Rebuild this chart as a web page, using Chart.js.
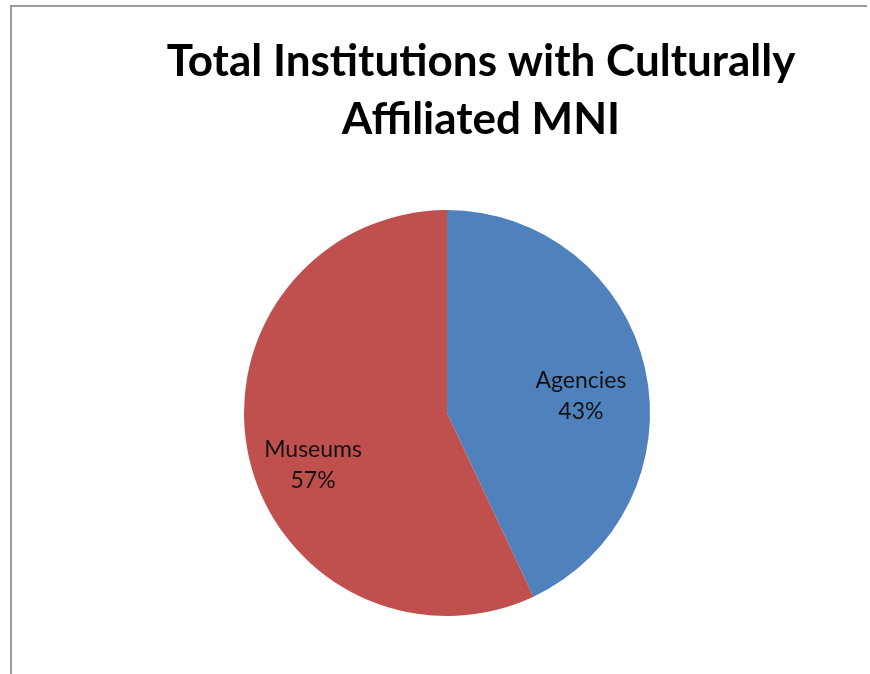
<!DOCTYPE html>
<html>
<head>
<meta charset="utf-8">
<script src="https://cdn.jsdelivr.net/npm/chart.js@4"></script>
<style>
  html, body { margin: 0; padding: 0; background: #fff; }
  #wrap { position: relative; width: 870px; height: 674px; overflow: hidden; }
  #frame { position: absolute; left: 10px; top: 5px; width: 857px; height: 700px;
           border-left: 2px solid #9a9a9a; border-top: 2px solid #9a9a9a; box-sizing: border-box; }
  canvas { position: absolute; left: 0; top: 0; }
</style>
</head>
<body>
<div id="wrap">
  <div id="frame"></div>
  <canvas id="c" width="870" height="674"></canvas>
</div>
<script>
const titleLines = ["Total Institutions with Culturally", "Affiliated MNI"];
const categories = ["Agencies", "Museums"];
const values = [43, 57];
const colors = ["#4F81BD", "#C0504D"];

const titlePlugin = {
  id: 'customTitle',
  afterDraw(chart) {
    const ctx = chart.ctx;
    ctx.save();
    ctx.fillStyle = '#000';
    ctx.font = 'bold 44px Lato';
    ctx.textAlign = 'center';
    ctx.textBaseline = 'alphabetic';
    titleLines.forEach((t, i) => ctx.fillText(t, 481, 76 + i * 58));
    ctx.restore();
  }
};

const labelPlugin = {
  id: 'sliceLabels',
  afterDatasetsDraw(chart) {
    const ctx = chart.ctx;
    const meta = chart.getDatasetMeta(0);
    const total = values.reduce((a, b) => a + b, 0);
    ctx.save();
    ctx.fillStyle = '#111';
    ctx.font = '23px Lato';
    ctx.textAlign = 'center';
    ctx.textBaseline = 'alphabetic';
    meta.data.forEach((arc, i) => {
      const p = arc.getProps(['x', 'y', 'startAngle', 'endAngle', 'outerRadius'], true);
      const mid = (p.startAngle + p.endAngle) / 2;
      const R = p.outerRadius;
      const cx = p.x + Math.cos(mid) * R * 0.676;
      const cy = p.y + Math.sin(mid) * R * 0.78 + R * 0.086;
      const pct = Math.round(values[i] / total * 100) + '%';
      ctx.fillText(categories[i], cx, cy - 8);
      ctx.fillText(pct, cx, cy + 23);
    });
    ctx.restore();
  }
};

new Chart(document.getElementById('c'), {
  type: 'pie',
  data: {
    labels: categories,
    datasets: [{
      data: values,
      backgroundColor: colors,
      borderColor: '#ffffff',
      borderWidth: 0
    }]
  },
  options: {
    responsive: false,
    animation: false,
    layout: { padding: { top: 210, bottom: 58, left: 24, right: 0 } },
    plugins: {
      legend: { display: false },
      title: { display: false },
      tooltip: { enabled: false }
    }
  },
  plugins: [titlePlugin, labelPlugin]
});
</script>
</body>
</html>
